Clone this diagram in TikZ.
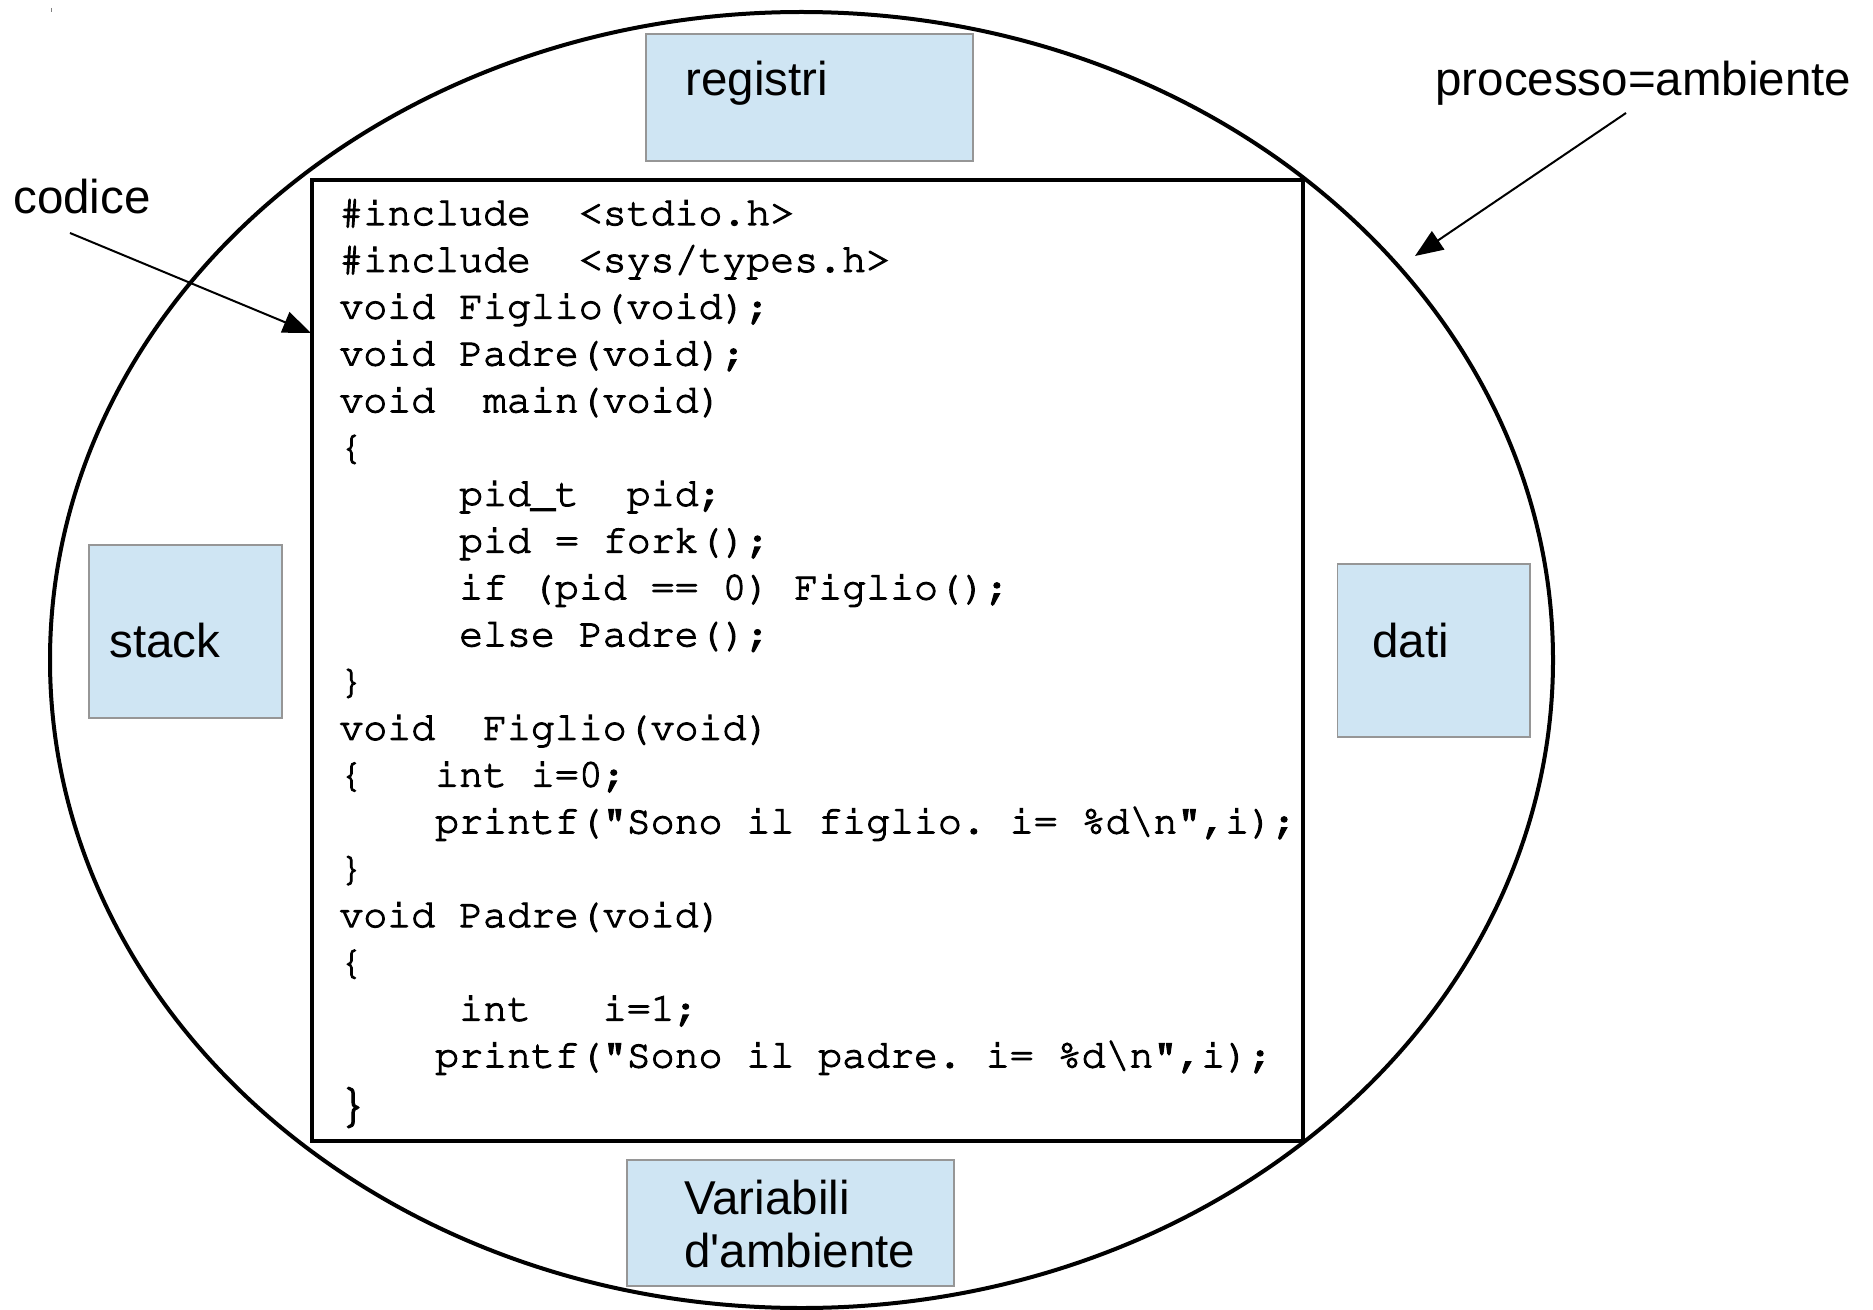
\documentclass[tikz,border=0pt]{standalone}
\usepackage[T1]{fontenc}
\usepackage{fontspec}
\usetikzlibrary{shapes.geometric,arrows.meta}
\newfontfamily\labfont{Liberation Sans}
\newcommand\codefont{\fontencoding{T1}\fontfamily{pcr}\selectfont\frenchspacing}
\newcommand\SP{\hspace*{0.6em}}
\newcommand\heavytext{\special{pdf:literal direct 2 Tr 0.55 w}}
\definecolor{boxfill}{RGB}{207,229,243}
\definecolor{boxline}{RGB}{150,150,150}
\begin{document}
\begin{tikzpicture}[x=0.5pt,y=-0.5pt,
  lab/.style={font=\labfont\fontsize{23.75}{26}\selectfont,inner sep=0,anchor=base west},
  code/.style={font=\codefont\fontsize{19.95}{23.5}\selectfont,inner sep=0,anchor=base west,
    execute at begin node={\heavytext}},
  bluebox/.style={draw=boxline,fill=boxfill,line width=0.7pt,inner sep=0,rectangle},
  arr/.style={line width=1pt,-{Triangle[length=14pt,width=11pt]}}]
\useasboundingbox[fill=white] (0,0) rectangle (1873,1310);
\draw[gray,line width=0.4pt] (51,8) -- (51,12);
% process ellipse
\node[draw,ellipse,line width=2pt,minimum width=751.5pt,minimum height=648pt,inner sep=0] (proc) at (801.5,660) {};
% blue boxes
\node[bluebox,minimum width=163.5pt,minimum height=63.5pt] (regbox) at (809.5,97.5) {};
\node[bluebox,minimum width=96.5pt,minimum height=86.5pt] (stackbox) at (185.5,631.5) {};
\node[bluebox,minimum width=96.25pt,minimum height=86.5pt] (datibox) at (1433.75,650.5) {};
\node[bluebox,minimum width=163.5pt,minimum height=63pt] (varbox) at (790.5,1223) {};
\node[lab] (regtxt) at (685,96) {registri};
\node[lab] (stacktxt) at (109,657.5) {stack};
\node[lab] (datitxt) at (1372,657) {dati};
\node[lab] (vartxt1) at (684,1214) {Variabili};
\node[lab] (vartxt2) at (684,1267) {d\symbol{39}ambiente};
% code box
\node[draw,line width=1.7pt,minimum width=495.5pt,minimum height=480.5pt,inner sep=0] (codebox) at (807.5,660.5) {};
\node[code] (l1) at (339,225) {\#include\SP\SP{}<stdio.h>};
\node[code] (l2) at (339,271.8) {\#include\SP\SP{}<sys/types.h>};
\node[code] (l3) at (339,318.6) {void Figlio(void);};
\node[code] (l4) at (339,365.4) {void Padre(void);};
\node[code] (l5) at (339,412.2) {void\SP\SP{}main(void)};
\node[code] (l6) at (339,459) {\{};
\node[code] (l7) at (458.8,505.8) {pid\_t\SP\SP{}pid;};
\node[code] (l8) at (458.8,552.6) {pid = fork();};
\node[code] (l9) at (458.8,599.4) {if (pid == 0) Figlio();};
\node[code] (l10) at (458.8,646.2) {else Padre();};
\node[code] (l11) at (339,693) {\}};
\node[code] (l12) at (339,739.8) {void\SP\SP{}Figlio(void)};
\node[code] (l13) at (339,786.6) {\{\SP\SP\SP{}int i=0;};
\node[code] (l14) at (434.8,833.4) {printf("Sono il figlio. i= \%d\textbackslash n",i);};
\node[code] (l15) at (339,880.2) {\}};
\node[code] (l16) at (339,927) {void Padre(void)};
\node[code] (l17) at (339,973.8) {\{};
\node[code] (l18) at (458.8,1020.6) {int\SP\SP\SP{}i=1;};
\node[code] (l19) at (434.8,1067.4) {printf("Sono il padre. i= \%d\textbackslash n",i);};
\node[code,font=\codefont\fontsize{28}{30}\selectfont] (l20) at (336,1121) {\}};
% labels and arrows
\node[lab] (codice) at (13,214) {codice};
\node[lab] (procname) at (1435,96) {processo=ambiente};
\coordinate (cfrom) at (70,233);
\coordinate (cto) at (311,333);
\coordinate (pfrom) at (1626,113);
\coordinate (pto) at (1415,256);
\draw[arr] (cfrom) -- (cto);
\draw[arr] (pfrom) -- (pto);
\end{tikzpicture}
\end{document}
